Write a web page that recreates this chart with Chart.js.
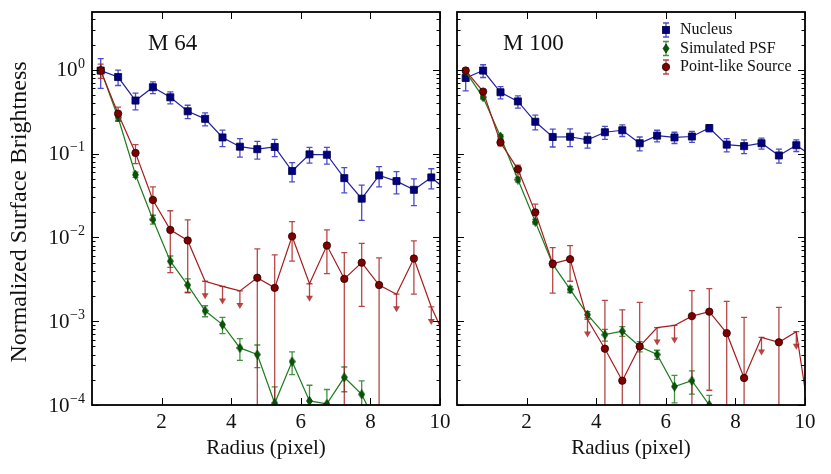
<!DOCTYPE html>
<html>
<head>
<meta charset="utf-8">
<title>Surface brightness profiles - M 64 / M 100</title>
<script src="https://cdn.jsdelivr.net/npm/chart.js@4.4.1/dist/chart.umd.min.js"></script>
<style>
  html, body { margin: 0; padding: 0; background: #fff; }
  #wrap { position: relative; width: 831px; height: 474px; }
  .panel { position: absolute; top: 0; height: 474px; }
  #left { left: 0; width: 462px; }
  #right { left: 448px; width: 383px; }
</style>
</head>
<body>
<div id="wrap">
  <div class="panel" id="left"><canvas id="m64"></canvas></div>
  <div class="panel" id="right"><canvas id="m100"></canvas></div>
</div>
<script>
// radius bins (pixel)
const radius = [0.25, 0.75, 1.25, 1.75, 2.25, 2.75, 3.25, 3.75, 4.25, 4.75, 5.25,
                5.75, 6.25, 6.75, 7.25, 7.75, 8.25, 8.75, 9.25, 9.75, 10.25];
const xTicks = [2, 4, 6, 8, 10];
const yDecades = [-4, -3, -2, -1, 0];

// M 64
const m64Nucleus    = [0.98, 0.82, 0.43, 0.62, 0.47, 0.32, 0.26, 0.156, 0.121, 0.113, 0.12,
                       0.062, 0.098, 0.097, 0.051, 0.029, 0.055, 0.047, 0.037, 0.052, 0.035];
const m64NucleusErr = [0.38, 0.17, 0.097, 0.1, 0.077, 0.058, 0.046, 0.035, 0.03, 0.027, 0.028,
                       0.016, 0.021, 0.022, 0.017, 0.013, 0.015, 0.014, 0.013, 0.014, 0.013];
const m64Psf        = [1.0, 0.27, 0.056, 0.0164, 0.0052, 0.0027, 0.00133, 0.00091, 0.00048, 0.0004, 0.000105,
                       0.00033, 0.000112, 0.000103, 0.000214, 0.000134, 0.00005, null, null, null, null];
const m64PsfErr     = [0.05, 0.02, 0.004, 0.002, 0.0008, 0.0005, 0.0002, 0.0002, 0.00014, 0.00012, 0.00006,
                       0.0001, 0.00006, 0.00005, 0.00007, 0.00006, 0.00004, 0, 0, 0, 0];
const m64Point      = [0.98, 0.30, 0.102, 0.028, 0.0123, 0.0092, 0.0030, 0.0026, 0.0023, 0.0033, 0.0025,
                       0.0103, 0.0028, 0.008, 0.0032, 0.005, 0.0027, 0.0021, 0.0056, 0.00148, 0.00052];
const m64PointErr   = [0.19, 0.058, 0.026, 0.012, 0.0085, 0.007, 0, 0, 0, 0.004, 0.0037,
                       0.0051, 0, 0.0043, 0.0034, 0.0035, 0.003, 0, 0.0035, 0, 0];
const m64PointLim   = [0, 0, 0, 0, 0, 0, 1, 1, 1, 0, 0, 0, 1, 0, 0, 0, 0, 1, 0, 1, 0];

// M 100
const m100Nucleus    = [0.80, 0.98, 0.54, 0.42, 0.24, 0.158, 0.159, 0.146, 0.18, 0.19, 0.133,
                        0.164, 0.156, 0.16, 0.202, 0.128, 0.123, 0.133, 0.095, 0.126, 0.09];
const m100NucleusErr = [0.24, 0.17, 0.09, 0.07, 0.048, 0.038, 0.038, 0.03, 0.032, 0.03, 0.025,
                        0.026, 0.024, 0.024, 0.02, 0.023, 0.023, 0.02, 0.018, 0.02, 0.018];
const m100Psf        = [0.95, 0.47, 0.16, 0.049, 0.0154, 0.0048, 0.0024, 0.0012, 0.00069, 0.00076, 0.0005,
                        0.0004, 0.000166, 0.000195, 0.0001, 0.00005, null, null, null, null, null];
const m100PsfErr     = [0.04, 0.02, 0.008, 0.003, 0.001, 0.0004, 0.0002, 0.0001, 0.00011, 0.0001, 0.00007,
                        0.00005, 0.00006, 0.00006, 0.00003, 0.00003, 0, 0, 0, 0, 0];
const m100Point      = [0.98, 0.55, 0.136, 0.065, 0.0199, 0.00486, 0.0055, 0.00105, 0.00047, 0.000195, 0.0005,
                        0.00084, 0.00089, 0.00115, 0.0013, 0.00072, 0.00021, 0.00064, 0.00056, 0.00075, 0.000032];
const m100PointErr   = [0.06, 0.03, 0.012, 0.008, 0.005, 0.0027, 0.0025, 0, 0.0013, 0.00117, 0.00118,
                        0, 0, 0.00117, 0.00115, 0.001, 0.0009, 0, 0.0009, 0, 0];
const m100PointLim   = [0, 0, 0, 0, 0, 0, 0, 1, 0, 0, 0, 1, 1, 0, 0, 0, 0, 1, 0, 1, 0];

const FONT = '"Liberation Serif", "Times New Roman", serif';

// thin diamond marker for the PSF curve
function diamondMarker() {
  const c = document.createElement('canvas');
  c.width = 7; c.height = 10;
  const g = c.getContext('2d');
  drawDiamond(g, 3.5, 5);
  return c;
}
function drawDiamond(g, x, y) {
  g.beginPath();
  g.moveTo(x, y - 4.5); g.lineTo(x + 3, y); g.lineTo(x, y + 4.5); g.lineTo(x - 3, y);
  g.closePath();
  g.fillStyle = '#005a00'; g.fill();
  g.strokeStyle = '#002a00'; g.lineWidth = 0.7; g.stroke();
}
const DIAMOND = diamondMarker();

const looks = {
  nucleus: { line: '#2020a8', fill: '#000080', edge: '#000040', err: 'rgba(30,30,190,0.8)', style: 'rect', r: 5 },
  psf:     { line: '#1c7c1c', fill: '#005a00', edge: '#002a00', err: 'rgba(20,120,20,0.8)', style: DIAMOND, r: 4 },
  point:   { line: '#a41c1c', fill: '#800000', edge: '#250000', err: 'rgba(165,25,25,0.8)', style: 'circle', r: 3.7 }
};

function series(label, vals, err, lim, look, order) {
  return {
    label: label,
    data: radius.map((x, i) => ({ x: x, y: vals[i] })),
    err: err,
    lim: lim,
    errColor: look.err,
    order: order,
    borderColor: look.line,
    borderWidth: 1.2,
    pointStyle: look.style,
    pointRadius: ctx => (lim && lim[ctx.dataIndex]) ? 0 : look.r,
    pointBackgroundColor: look.fill,
    pointBorderColor: look.edge,
    pointBorderWidth: 0.8,
    spanGaps: false,
    tension: 0
  };
}

const panelPlugin = {
  id: 'panel',
  beforeDatasetsDraw(chart) {
    const { ctx, chartArea: a, scales: { x, y } } = chart;
    ctx.save();
    ctx.beginPath();
    ctx.rect(a.left, a.top, a.right - a.left, a.bottom - a.top);
    ctx.clip();
    chart.data.datasets.forEach(ds => {
      ds.data.forEach((p, i) => {
        if (p.y == null) return;
        const px = x.getPixelForValue(p.x);
        const py = y.getPixelForValue(p.y);
        ctx.strokeStyle = ds.errColor;
        ctx.fillStyle = ds.errColor;
        ctx.lineWidth = 1.3;
        if (ds.lim && ds.lim[i]) {
          // upper limit: cap, line down and arrow head
          ctx.beginPath();
          ctx.moveTo(px - 3, py); ctx.lineTo(px + 3, py);
          ctx.moveTo(px, py); ctx.lineTo(px, py + 13);
          ctx.stroke();
          ctx.beginPath();
          ctx.moveTo(px - 3.5, py + 12); ctx.lineTo(px + 3.5, py + 12); ctx.lineTo(px, py + 18);
          ctx.closePath(); ctx.fill();
          return;
        }
        const e = ds.err[i];
        if (!e) return;
        const top = y.getPixelForValue(p.y + e);
        const lo = p.y - e;
        const bot = lo > 0 ? y.getPixelForValue(lo) : a.bottom + 10;
        ctx.beginPath();
        ctx.moveTo(px, top); ctx.lineTo(px, bot);
        ctx.moveTo(px - 3, top); ctx.lineTo(px + 3, top);
        ctx.moveTo(px - 3, bot); ctx.lineTo(px + 3, bot);
        ctx.stroke();
      });
    });
    ctx.restore();
  },
  afterDraw(chart, args, o) {
    const { ctx, chartArea: a, scales: { x, y } } = chart;
    ctx.save();
    ctx.strokeStyle = '#000';
    ctx.fillStyle = '#111';
    ctx.lineWidth = 1;

    // inward ticks, log minor ticks
    ctx.beginPath();
    yDecades.forEach(d => {
      for (let m = 1; m < 10; m++) {
        const v = m * Math.pow(10, d);
        if (v < y.min || v > y.max) continue;
        const py = Math.round(y.getPixelForValue(v)) + 0.5;
        const len = m === 1 ? 7 : 3.5;
        ctx.moveTo(a.left, py); ctx.lineTo(a.left + len, py);
        ctx.moveTo(a.right, py); ctx.lineTo(a.right - len, py);
      }
    });
    xTicks.forEach(t => {
      const px = Math.round(x.getPixelForValue(t)) + 0.5;
      ctx.moveTo(px, a.bottom); ctx.lineTo(px, a.bottom - 7);
      ctx.moveTo(px, a.top); ctx.lineTo(px, a.top + 7);
    });
    ctx.stroke();

    // frame
    ctx.lineWidth = 1.8;
    ctx.strokeRect(a.left, a.top, a.right - a.left, a.bottom - a.top);

    // x tick labels and title
    ctx.textAlign = 'center';
    ctx.textBaseline = 'middle';
    ctx.font = '21px ' + FONT;
    xTicks.forEach(t => ctx.fillText(String(t), x.getPixelForValue(t), 422));
    ctx.fillText('Radius (pixel)', (a.left + a.right) / 2, 448);

    // y tick labels (10^n) and title
    if (o.yLabels) {
      const right = a.left - 7;
      yDecades.forEach(d => {
        const py = y.getPixelForValue(Math.pow(10, d));
        const ex = d === 0 ? '0' : '\u2212' + (-d);
        ctx.textAlign = 'right';
        ctx.font = '14px ' + FONT;
        const ew = ctx.measureText(ex).width;
        ctx.fillText(ex, right, py - 6);
        ctx.font = '21px ' + FONT;
        ctx.fillText('10', right - ew - 0.5, py + 1);
      });
      ctx.save();
      ctx.translate(20, 212);
      ctx.rotate(-Math.PI / 2);
      ctx.textAlign = 'center';
      ctx.font = '24px ' + FONT;
      ctx.fillText('Normalized Surface Brightness', 0, 0);
      ctx.restore();
    }

    // galaxy name
    ctx.textAlign = 'left';
    ctx.font = '23px ' + FONT;
    ctx.fillText(o.name, a.left + o.nameDx, 44);

    // legend
    if (o.legend) {
      const rows = [
        ['Nucleus', looks.nucleus, 'sq'],
        ['Simulated PSF', looks.psf, 'di'],
        ['Point-like Source', looks.point, 'ci']
      ];
      const lx = 666 - chart.canvas.parentNode.offsetLeft;
      rows.forEach((r, k) => {
        const my = 30 + k * 18.5;
        ctx.strokeStyle = r[1].err;
        ctx.lineWidth = 1.3;
        ctx.beginPath();
        ctx.moveTo(lx, my - 7); ctx.lineTo(lx, my + 7);
        ctx.moveTo(lx - 3, my - 7); ctx.lineTo(lx + 3, my - 7);
        ctx.moveTo(lx - 3, my + 7); ctx.lineTo(lx + 3, my + 7);
        ctx.stroke();
        ctx.fillStyle = r[1].fill;
        ctx.strokeStyle = r[1].edge;
        ctx.lineWidth = 0.8;
        if (r[2] === 'sq') {
          ctx.fillRect(lx - 3.5, my - 3.5, 7, 7);
          ctx.strokeRect(lx - 3.5, my - 3.5, 7, 7);
        } else if (r[2] === 'di') {
          drawDiamond(ctx, lx, my);
        } else {
          ctx.beginPath(); ctx.arc(lx, my, 3.7, 0, Math.PI * 2); ctx.fill(); ctx.stroke();
        }
        ctx.fillStyle = '#111';
        ctx.textAlign = 'left';
        ctx.textBaseline = 'middle';
        ctx.font = '16px ' + FONT;
        ctx.fillText(r[0], lx + 14, my);
      });
    }
    ctx.restore();
  }
};

function makePanel(id, nucleus, nucleusErr, psf, psfErr, point, pointErr, pointLim, opt) {
  return new Chart(document.getElementById(id), {
    type: 'line',
    data: {
      datasets: [
        series('Nucleus', nucleus, nucleusErr, null, looks.nucleus, 2),
        series('Simulated PSF', psf, psfErr, null, looks.psf, 1),
        series('Point-like Source', point, pointErr, pointLim, looks.point, 0)
      ]
    },
    options: {
      responsive: true,
      maintainAspectRatio: false,
      animation: false,
      layout: { padding: { left: 0, top: 12, right: opt.padRight, bottom: 0 } },
      plugins: {
        legend: { display: false },
        tooltip: { enabled: false },
        panel: opt
      },
      scales: {
        x: {
          type: 'linear', min: 0, max: 10,
          grid: { display: false }, border: { display: false },
          ticks: { display: false },
          afterFit: s => { s.height = 69; }
        },
        y: {
          type: 'logarithmic', min: 1e-4, max: 4.9,
          grid: { display: false }, border: { display: false },
          ticks: { display: false },
          afterFit: s => { s.width = opt.yWidth; }
        }
      }
    },
    plugins: [panelPlugin]
  });
}

makePanel('m64', m64Nucleus, m64NucleusErr, m64Psf, m64PsfErr, m64Point, m64PointErr, m64PointLim,
  { name: 'M 64', nameDx: 56, yLabels: true, legend: false, yWidth: 92, padRight: 22 });
makePanel('m100', m100Nucleus, m100NucleusErr, m100Psf, m100PsfErr, m100Point, m100PointErr, m100PointLim,
  { name: 'M 100', nameDx: 46, yLabels: false, legend: true, yWidth: 9, padRight: 26 });
</script>
</body>
</html>
